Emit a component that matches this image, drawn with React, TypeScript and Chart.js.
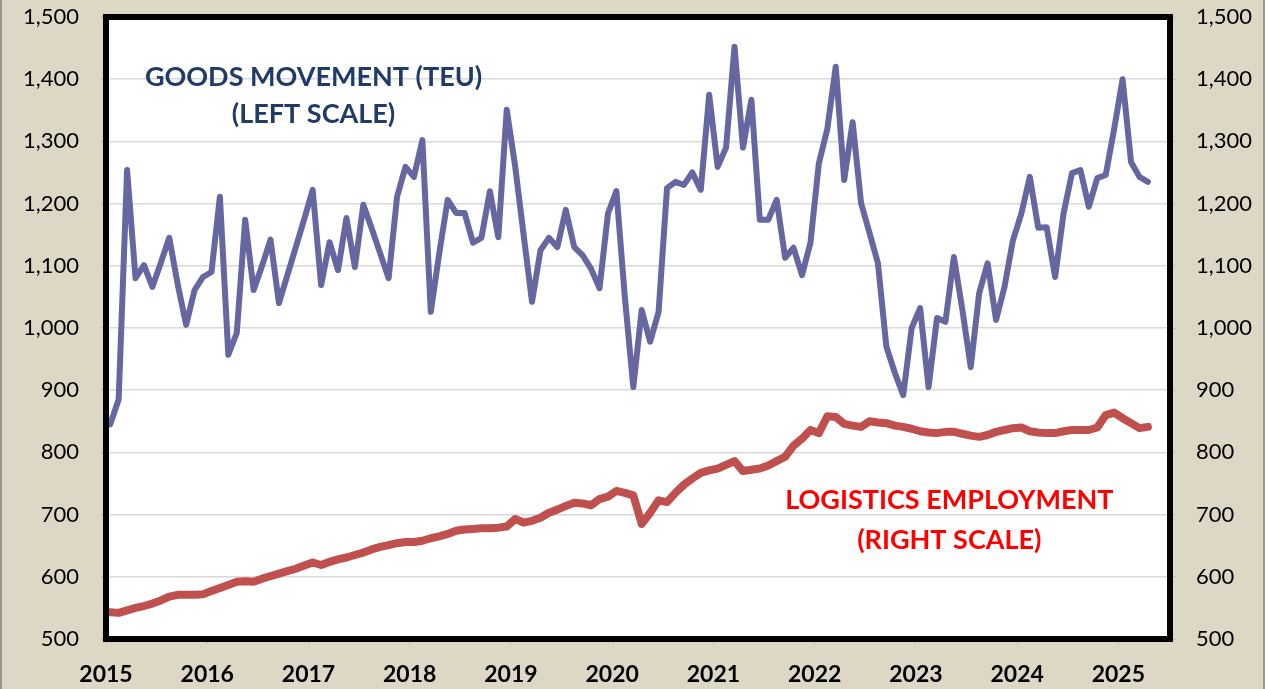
import React, { useEffect, useRef } from "react";
import { Chart, registerables } from "chart.js";

Chart.register(...registerables);

// Monthly data, Jan 2015 .. Apr 2025
const startYear = 2015;

const goodsTEU: number[] = [
  // 2015
  845, 885, 1254, 1080, 1101, 1066, 1105, 1145, 1070, 1005, 1061, 1082,
  // 2016
  1090, 1211, 957, 992, 1174, 1061, 1100, 1142, 1040, 1085, 1130, 1175,
  // 2017
  1222, 1069, 1138, 1093, 1177, 1098, 1198, 1160, 1120, 1080, 1211, 1259,
  // 2018
  1243, 1302, 1026, 1120, 1206, 1185, 1185, 1137, 1145, 1220, 1146, 1351,
  // 2019
  1260, 1150, 1042, 1125, 1145, 1130, 1190, 1130, 1117, 1095, 1064, 1184,
  // 2020
  1220, 1050, 905, 1029, 978, 1026, 1225, 1235, 1230, 1250, 1222, 1375,
  // 2021
  1259, 1290, 1452, 1290, 1367, 1174, 1174, 1206, 1113, 1129, 1085, 1137,
  // 2022
  1265, 1320, 1420, 1238, 1331, 1201, 1153, 1104, 970, 928, 892, 1000,
  // 2023
  1032, 905, 1016, 1010, 1114, 1030, 937, 1056, 1104, 1013, 1066, 1141,
  // 2024
  1184, 1243, 1161, 1162, 1082, 1184, 1249, 1254, 1195, 1241, 1246, 1320,
  // 2025
  1400, 1267, 1243, 1235,
];

const logisticsEmployment: number[] = [
  // 2015
  543, 542, 546, 550, 553, 557, 562, 568, 571, 571, 571, 572,
  // 2016
  577, 582, 587, 592, 593, 592, 597, 601, 605, 609, 613, 618,
  // 2017
  623, 619, 624, 628, 631, 635, 639, 644, 648, 651, 654, 656,
  // 2018
  656, 658, 662, 665, 669, 674, 676, 677, 678, 678, 679, 681,
  // 2019
  693, 687, 690, 695, 703, 708, 714, 719, 718, 715, 725, 729,
  // 2020
  738, 735, 731, 685, 703, 723, 720, 735, 748, 758, 767, 771,
  // 2021
  774, 780, 786, 770, 772, 774, 779, 786, 793, 811, 822, 836,
  // 2022
  831, 858, 857, 846, 843, 841, 850, 848, 847, 843, 841, 838,
  // 2023
  834, 832, 831, 833, 833, 830, 827, 825, 828, 833, 836, 839,
  // 2024
  840, 834, 832, 831, 831, 834, 836, 836, 836, 840, 860, 864,
  // 2025
  855, 847, 839, 841,
];

const yearTicks: number[] = [2015, 2016, 2017, 2018, 2019, 2020, 2021, 2022, 2023, 2024, 2025];
const leftTicks: number[] = [500, 600, 700, 800, 900, 1000, 1100, 1200, 1300, 1400, 1500];

const monthLabels: string[] = goodsTEU.map((_, i) => {
  const y = startYear + Math.floor(i / 12);
  const m = (i % 12) + 1;
  return `${y}-${String(m).padStart(2, "0")}`;
});

const toDecimalYear = (label: string): number => {
  const [y, m] = label.split("-").map(Number);
  return y + (m - 0.5) / 12;
};

const goodsLabel = ["GOODS MOVEMENT (TEU)", "(LEFT SCALE)"];
const logisticsLabel = ["LOGISTICS EMPLOYMENT", "(RIGHT SCALE)"];

const BG = "#DDD8C5";
const FONT = "Lato, 'DejaVu Sans', sans-serif";

export default function App() {
  const canvasRef = useRef<HTMLCanvasElement | null>(null);

  useEffect(() => {
    document.body.style.margin = "0";
    const canvas = canvasRef.current;
    if (!canvas) return;

    const framePlugin = {
      id: "frame",
      beforeDraw(chart: any) {
        const { ctx, chartArea } = chart;
        ctx.save();
        ctx.fillStyle = BG;
        ctx.fillRect(0, 0, chart.width, chart.height);
        ctx.fillStyle = "#ffffff";
        ctx.fillRect(chartArea.left, chartArea.top, chartArea.right - chartArea.left, chartArea.bottom - chartArea.top);
        ctx.restore();
      },
      afterDatasetsDraw(chart: any) {
        const { ctx, chartArea, scales } = chart;
        ctx.save();
        ctx.strokeStyle = "#000000";
        ctx.lineWidth = 6;
        ctx.strokeRect(chartArea.left, chartArea.top, chartArea.right - chartArea.left, chartArea.bottom - chartArea.top);

        ctx.textAlign = "center";
        ctx.textBaseline = "middle";
        ctx.font = `bold 27px ${FONT}`;
        // goods label (left scale coordinates)
        ctx.fillStyle = "#1F3B66";
        const gx = scales.x.getPixelForValue(2017.05);
        ctx.fillText(goodsLabel[0], gx, scales.y.getPixelForValue(1403));
        ctx.fillText(goodsLabel[1], gx, scales.y.getPixelForValue(1344));
        // logistics label (right scale coordinates)
        ctx.fillStyle = "#FF0000";
        const lx = scales.x.getPixelForValue(2023.33);
        ctx.fillText(logisticsLabel[0], lx, scales.y1.getPixelForValue(723));
        ctx.fillText(logisticsLabel[1], lx, scales.y1.getPixelForValue(659));
        ctx.restore();
      },
    };

    const fitY = (w: number) => (scale: any) => {
      scale.width = w;
      scale.paddingTop = 0;
      scale.paddingBottom = 0;
    };

    const chart = new Chart(canvas, {
      type: "line",
      data: {
        datasets: [
          {
            label: "Goods Movement (TEU)",
            data: monthLabels.map((lab, i) => ({ x: toDecimalYear(lab), y: goodsTEU[i] })),
            borderColor: "#6667A0",
            borderWidth: 6,
            pointRadius: 0,
            tension: 0,
            yAxisID: "y",
            borderJoinStyle: "round",
            borderCapStyle: "round",
          },
          {
            label: "Logistics Employment",
            data: monthLabels.map((lab, i) => ({ x: toDecimalYear(lab), y: logisticsEmployment[i] })),
            borderColor: "#C0504D",
            borderWidth: 8,
            pointRadius: 0,
            tension: 0,
            yAxisID: "y1",
            borderJoinStyle: "round",
            borderCapStyle: "round",
          },
        ],
      },
      options: {
        responsive: false,
        animation: false,
        events: [],
        layout: { padding: { top: 17, left: 0, right: 0, bottom: 0 } },
        plugins: {
          legend: { display: false },
          tooltip: { enabled: false },
          title: { display: false },
        },
        scales: {
          x: {
            type: "linear",
            min: 2015,
            max: 2025.51,
            afterFit(scale: any) {
              scale.height = 50;
              scale.paddingLeft = 0;
              scale.paddingRight = 0;
            },
            afterBuildTicks(scale: any) {
              scale.ticks = yearTicks.map((v) => ({ value: v }));
            },
            grid: {
              drawOnChartArea: false,
              drawTicks: true,
              tickLength: 5,
              tickColor: "#b8b8b8",
            },
            border: { display: false },
            ticks: {
              autoSkip: false,
              maxRotation: 0,
              padding: 17,
              color: "#000000",
              font: { family: FONT, size: 23, weight: "bold" },
              callback: (v: any) => String(v),
            },
          },
          y: {
            type: "linear",
            position: "left",
            min: 500,
            max: 1500,
            afterFit: fitY(104),
            afterBuildTicks(scale: any) {
              scale.ticks = leftTicks.map((v) => ({ value: v }));
            },
            grid: {
              color: "#d9d9d9",
              lineWidth: 1.5,
              tickLength: 5,
              tickColor: "#b8b8b8",
            },
            border: { display: false },
            ticks: {
              padding: 22,
              color: "#000000",
              font: { family: FONT, size: 22 },
              callback: (v: any) => Number(v).toLocaleString("en-US"),
            },
          },
          y1: {
            type: "linear",
            position: "right",
            min: 500,
            max: 1500,
            afterFit: fitY(93),
            afterBuildTicks(scale: any) {
              scale.ticks = leftTicks.map((v) => ({ value: v }));
            },
            grid: {
              drawOnChartArea: false,
              tickLength: 5,
              tickColor: "#b8b8b8",
            },
            border: { display: false },
            ticks: {
              padding: 21,
              color: "#000000",
              font: { family: FONT, size: 22 },
              callback: (v: any) => Number(v).toLocaleString("en-US"),
            },
          },
        },
      },
      plugins: [framePlugin],
    } as any);

    return () => {
      chart.destroy();
    };
  }, []);

  return (
    <div
      style={{
        width: 1265,
        height: 689,
        background: BG,
        position: "relative",
        boxSizing: "border-box",
        borderLeft: "2px solid #9a978c",
        borderRight: "2px solid #9a978c",
        overflow: "hidden",
      }}
    >
      <canvas ref={canvasRef} width={1261} height={689} style={{ display: "block", marginLeft: 0 }} />
    </div>
  );
}
